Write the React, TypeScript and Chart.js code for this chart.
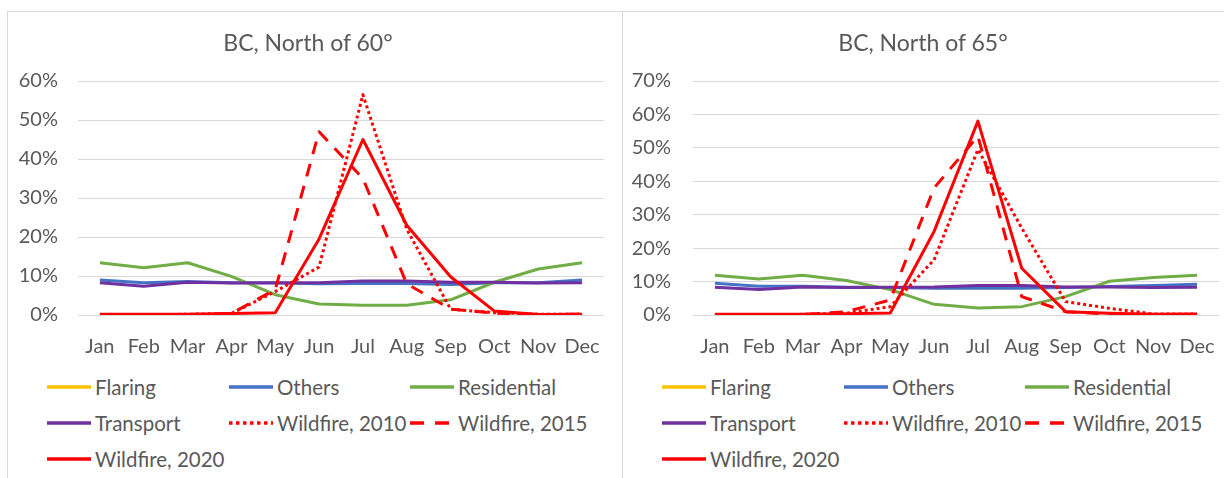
import React, { useEffect, useRef } from 'react';
import { Chart, registerables } from 'chart.js';

Chart.register(...registerables);

// ---------- data ----------
const months = ['Jan', 'Feb', 'Mar', 'Apr', 'May', 'Jun', 'Jul', 'Aug', 'Sep', 'Oct', 'Nov', 'Dec'];

const seriesNames = ['Flaring', 'Others', 'Residential', 'Transport', 'Wildfire, 2010', 'Wildfire, 2015', 'Wildfire, 2020'];

// BC, North of 60° (percent); Flaring has no visible values in the source
const flaring60: (number | null)[] = [null, null, null, null, null, null, null, null, null, null, null, null];
const others60 = [9.0, 8.3, 8.6, 8.3, 8.2, 8.0, 8.1, 8.1, 7.8, 8.3, 8.3, 9.0];
const residential60 = [13.4, 12.1, 13.4, 9.9, 5.2, 2.8, 2.5, 2.5, 3.9, 8.4, 11.8, 13.4];
const transport60 = [8.3, 7.4, 8.4, 8.2, 8.3, 8.3, 8.7, 8.7, 8.4, 8.4, 8.2, 8.3];
const wildfire2010_60 = [0, 0, 0.2, 0.4, 6.0, 12.3, 56.5, 22.0, 1.5, 0.6, 0.2, 0.2];
const wildfire2015_60 = [0, 0, 0, 0.4, 6.5, 47.0, 35.0, 8.0, 1.5, 0.5, 0.1, 0.2];
const wildfire2020_60 = [0.2, 0.2, 0.2, 0.4, 0.6, 19.5, 45.0, 23.0, 9.8, 1.0, 0.1, 0.2];

// BC, North of 65° (percent)
const flaring65: (number | null)[] = [null, null, null, null, null, null, null, null, null, null, null, null];
const others65 = [9.5, 8.6, 8.6, 8.3, 8.2, 8.0, 8.0, 8.0, 8.2, 8.5, 8.8, 9.2];
const residential65 = [11.9, 10.8, 11.9, 10.3, 7.6, 3.2, 2.1, 2.5, 5.5, 10.1, 11.2, 11.9];
const transport65 = [8.3, 7.6, 8.4, 8.2, 8.3, 8.4, 8.8, 8.8, 8.4, 8.4, 8.2, 8.3];
const wildfire2010_65 = [0, 0, 0.2, 0.5, 2.5, 16.5, 49.5, 26.0, 4.0, 2.0, 0.3, 0.3];
const wildfire2015_65 = [0, 0, 0.1, 1.0, 4.5, 38.0, 53.5, 5.5, 1.0, 0.3, 0.1, 0.2];
const wildfire2020_65 = [0.2, 0.2, 0.2, 0.4, 0.6, 25.0, 58.0, 14.0, 1.0, 0.5, 0.2, 0.3];

const yMax60 = 60;
const yMax65 = 70;
const yStep = 10;

// ---------- styles ----------
const seriesColors = ['#FFC000', '#4472C4', '#70AD47', '#7030A0', '#FF0000', '#FF0000', '#FF0000'];
const seriesDash: number[][] = [[], [], [], [], [3, 3], [13, 10], []];
const TEXT = '#595959';
const GRID = '#D9D9D9';
const FONT = 'Lato, "Open Sans", sans-serif';

type PanelProps = {
  x: number;
  title: string;
  yMax: number;
  values: (number | null)[][];
  tickPad: number;
};

function ChartPanel({ x, title, yMax, values, tickPad }: PanelProps) {
  const ref = useRef<HTMLCanvasElement>(null);

  useEffect(() => {
    const n = values.length;
    const chart = new Chart(ref.current as HTMLCanvasElement, {
      type: 'line',
      data: {
        labels: months,
        datasets: values.map((d, i) => ({
          label: seriesNames[i],
          data: d,
          borderColor: seriesColors[i],
          backgroundColor: seriesColors[i],
          borderWidth: 3,
          borderDash: seriesDash[i],
          borderCapStyle: 'butt',
          borderJoinStyle: 'round',
          pointRadius: 0,
          pointHoverRadius: 0,
          tension: 0,
          fill: false,
          spanGaps: false,
          order: n - i,
        })),
      },
      options: {
        animation: false,
        responsive: false,
        devicePixelRatio: 1,
        layout: { padding: { left: 0, right: 18, top: 70, bottom: 0 } },
        plugins: {
          legend: { display: false },
          title: { display: false },
          tooltip: { enabled: false },
        },
        scales: {
          x: {
            type: 'category',
            offset: true,
            grid: { display: false, drawTicks: false },
            border: { display: false },
            ticks: {
              color: TEXT,
              font: { family: FONT, size: 20 },
              padding: 20,
              maxRotation: 0,
              autoSkip: false,
            },
            afterFit: (s: any) => {
              s.height = 50;
            },
          },
          y: {
            min: 0,
            max: yMax,
            grid: { color: GRID, lineWidth: 1, drawTicks: false },
            border: { display: false },
            ticks: {
              stepSize: yStep,
              color: TEXT,
              font: { family: FONT, size: 20 },
              padding: tickPad,
              callback: (v: any) => v + '%',
            },
            afterFit: (s: any) => {
              s.width = 71;
            },
          },
        },
      } as any,
    });
    return () => chart.destroy();
  }, []);

  const colX = [40, 222, 403];
  const rowY = [387, 423, 459];

  return (
    <>
      <canvas
        ref={ref}
        width={615}
        height={354}
        style={{ position: 'absolute', left: x, top: 11, width: 615, height: 354 }}
      />
      <div
        style={{
          position: 'absolute',
          left: x + 301 - 150,
          width: 300,
          top: 28,
          height: 28,
          lineHeight: '28px',
          textAlign: 'center',
          fontFamily: FONT,
          fontSize: 23,
          color: TEXT,
          whiteSpace: 'nowrap',
        }}
      >
        {title}
      </div>
      {seriesNames.map((name, i) => {
        const cx = x + colX[i % 3];
        const cy = rowY[Math.floor(i / 3)];
        const dash = seriesDash[i];
        return (
          <React.Fragment key={name}>
            <svg
              width={44}
              height={8}
              style={{ position: 'absolute', left: cx, top: cy - 4 }}
            >
              <line
                x1={0}
                y1={4}
                x2={44}
                y2={4}
                stroke={seriesColors[i]}
                strokeWidth={3.5}
                strokeDasharray={dash.length ? (i === 4 ? '3.5 3.5' : '14 11') : undefined}
              />
            </svg>
            <div
              style={{
                position: 'absolute',
                left: cx + 48,
                top: cy - 13,
                height: 26,
                lineHeight: '26px',
                fontFamily: FONT,
                fontSize: 20.5,
                color: TEXT,
                whiteSpace: 'nowrap',
              }}
            >
              {name}
            </div>
          </React.Fragment>
        );
      })}
    </>
  );
}

export default function App() {
  return (
    <div
      style={{
        position: 'absolute',
        left: 0,
        top: 0,
        width: 1224,
        height: 478,
        overflow: 'hidden',
        background: '#FFFFFF',
      }}
    >
      {/* panel frames */}
      <div style={{ position: 'absolute', left: 7, top: 11, width: 1217, height: 1, background: GRID }} />
      <div style={{ position: 'absolute', left: 7, top: 11, width: 1, height: 467, background: GRID }} />
      <div style={{ position: 'absolute', left: 622, top: 11, width: 1, height: 467, background: GRID }} />

      <ChartPanel
        x={7}
        title="BC, North of 60°"
        yMax={yMax60}
        tickPad={20}
        values={[flaring60, others60, residential60, transport60, wildfire2010_60, wildfire2015_60, wildfire2020_60]}
      />
      <ChartPanel
        x={622}
        title="BC, North of 65°"
        yMax={yMax65}
        tickPad={22}
        values={[flaring65, others65, residential65, transport65, wildfire2010_65, wildfire2015_65, wildfire2020_65]}
      />
    </div>
  );
}
